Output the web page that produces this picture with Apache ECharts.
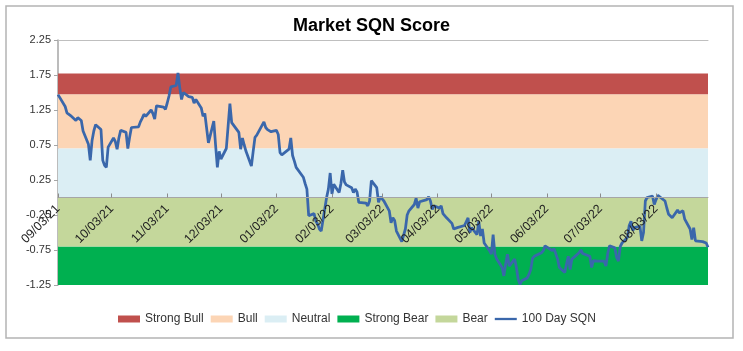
<!DOCTYPE html>
<html>
<head>
<meta charset="utf-8">
<script src="https://cdn.jsdelivr.net/npm/echarts@6/dist/echarts.min.js"></script>
<style>
  html, body { margin: 0; padding: 0; background: #fff; }
  #main { width: 743px; height: 351px; }
</style>
</head>
<body>
<div id="main"></div>
<script>
// bands (value ranges of the SQN regimes)
var bandNames = ['Strong Bull', 'Bull', 'Neutral', 'Strong Bear', 'Bear'];
var bandLow = [1.47, 0.7, 0, -1.25, -0.7];
var bandHigh = [1.77, 1.47, 0.7, -0.7, 0];
var bandColors = ['#C0504D', '#FCD5B5', '#DBEEF4', '#00B050', '#C4D79B'];

var yTicks = [-1.25, -0.75, -0.25, 0.25, 0.75, 1.25, 1.75, 2.25];
var xTicks = ['2021-09-03', '2021-10-03', '2021-11-03', '2021-12-03', '2022-01-03', '2022-02-03',
  '2022-03-03', '2022-04-03', '2022-05-03', '2022-06-03', '2022-07-03', '2022-08-03'];
var xMin = '2021-09-03';
var xMax = '2022-09-01';

var sqnDates = [
  '2021-09-03','2021-09-07','2021-09-08','2021-09-09','2021-09-10','2021-09-13','2021-09-14','2021-09-15','2021-09-16','2021-09-17','2021-09-20','2021-09-21','2021-09-22','2021-09-23','2021-09-24','2021-09-27','2021-09-28','2021-09-29','2021-09-30',
  '2021-10-01','2021-10-04','2021-10-05','2021-10-06','2021-10-07','2021-10-08','2021-10-11','2021-10-12','2021-10-13','2021-10-14','2021-10-15','2021-10-18','2021-10-19','2021-10-20','2021-10-21','2021-10-22','2021-10-25','2021-10-26','2021-10-27','2021-10-28','2021-10-29',
  '2021-11-01','2021-11-02','2021-11-03','2021-11-04','2021-11-05','2021-11-08','2021-11-09','2021-11-10','2021-11-11','2021-11-12','2021-11-15','2021-11-16','2021-11-17','2021-11-18','2021-11-19','2021-11-22','2021-11-23','2021-11-24','2021-11-26','2021-11-29','2021-11-30',
  '2021-12-01','2021-12-02','2021-12-03','2021-12-06','2021-12-07','2021-12-08','2021-12-09','2021-12-10','2021-12-13','2021-12-14','2021-12-15','2021-12-16','2021-12-17','2021-12-20','2021-12-21','2021-12-22','2021-12-23','2021-12-27','2021-12-28','2021-12-29','2021-12-30','2021-12-31',
  '2022-01-03','2022-01-04','2022-01-05','2022-01-06','2022-01-07','2022-01-10','2022-01-11','2022-01-12','2022-01-13','2022-01-14','2022-01-18','2022-01-19','2022-01-20','2022-01-21','2022-01-24','2022-01-25','2022-01-26','2022-01-27','2022-01-28','2022-01-31',
  '2022-02-01','2022-02-02','2022-02-03','2022-02-04','2022-02-07','2022-02-08','2022-02-09','2022-02-10','2022-02-11','2022-02-14','2022-02-15','2022-02-16','2022-02-17','2022-02-18','2022-02-22','2022-02-23','2022-02-24','2022-02-25','2022-02-28',
  '2022-03-01','2022-03-02','2022-03-03','2022-03-04','2022-03-07','2022-03-08','2022-03-09','2022-03-10','2022-03-11','2022-03-14','2022-03-15','2022-03-16','2022-03-17','2022-03-18','2022-03-21','2022-03-22','2022-03-23','2022-03-24','2022-03-25','2022-03-28','2022-03-29','2022-03-30','2022-03-31',
  '2022-04-01','2022-04-04','2022-04-05','2022-04-06','2022-04-07','2022-04-08','2022-04-11','2022-04-12','2022-04-13','2022-04-14','2022-04-18','2022-04-19','2022-04-20','2022-04-21','2022-04-22','2022-04-25','2022-04-26','2022-04-27','2022-04-28','2022-04-29',
  '2022-05-02','2022-05-03','2022-05-04','2022-05-05','2022-05-06','2022-05-09','2022-05-10','2022-05-11','2022-05-12','2022-05-13','2022-05-16','2022-05-17','2022-05-18','2022-05-19','2022-05-20','2022-05-23','2022-05-24','2022-05-25','2022-05-26','2022-05-27','2022-05-31',
  '2022-06-01','2022-06-02','2022-06-03','2022-06-06','2022-06-07','2022-06-08','2022-06-09','2022-06-10','2022-06-13','2022-06-14','2022-06-15','2022-06-16','2022-06-17','2022-06-21','2022-06-22','2022-06-23','2022-06-24','2022-06-27','2022-06-28','2022-06-29','2022-06-30',
  '2022-07-01','2022-07-05','2022-07-06','2022-07-07','2022-07-08','2022-07-11','2022-07-12','2022-07-13','2022-07-14','2022-07-15','2022-07-18','2022-07-19','2022-07-20','2022-07-21','2022-07-22','2022-07-25','2022-07-26','2022-07-27','2022-07-28','2022-07-29',
  '2022-08-01','2022-08-02','2022-08-03','2022-08-04','2022-08-05','2022-08-08','2022-08-09','2022-08-10','2022-08-11','2022-08-12','2022-08-15','2022-08-16','2022-08-17','2022-08-18','2022-08-19','2022-08-22','2022-08-23','2022-08-24','2022-08-25','2022-08-26','2022-08-29','2022-08-30','2022-08-31',
  '2022-09-01'
];
var sqnValues = [
  1.47, 1.30, 1.21, 1.19, 1.17, 1.10, 1.14, 1.12, 1.10, 0.95, 0.76, 0.53, 0.81, 0.95, 1.04, 0.97, 0.53, 0.46, 0.43,
  0.72, 0.85, 0.80, 0.69, 0.85, 0.96, 0.93, 0.70, 0.86, 1.00, 1.02, 1.01, 1.08, 1.13, 1.19, 1.16, 1.25, 1.20, 1.12, 1.31, 1.30,
  1.29, 1.26, 1.35, 1.45, 1.58, 1.60, 1.78, 1.57, 1.40, 1.50, 1.44, 1.44, 1.43, 1.35, 1.40, 1.28, 1.16, 1.20, 0.78, 1.09, 0.75,
  0.43, 0.66, 0.55, 0.70, 1.02, 1.34, 1.07, 1.05, 0.93, 0.69, 0.85, 0.75, 0.66, 0.45, 0.66, 0.86, 0.89, 1.08, 1.00, 0.97, 0.95, 0.94,
  0.96, 0.90, 0.64, 0.61, 0.60, 0.69, 0.85, 0.60, 0.52, 0.43, 0.29, 0.20, 0.12, -0.26, -0.23, -0.34, -0.38, -0.45, -0.48, 0.00,
  0.12, 0.35, 0.05, 0.19, 0.07, 0.20, 0.39, 0.22, 0.18, 0.14, 0.07, 0.12, 0.08, -0.07, -0.08, -0.12, -0.05, 0.24, 0.14,
  -0.07, 0.01, -0.02, -0.05, -0.19, -0.36, -0.29, -0.33, -0.48, -0.63, -0.62, -0.45, -0.25, -0.19, -0.10, -0.01, -0.15, -0.06, -0.04, -0.03, 0.01, -0.05, -0.17,
  -0.12, -0.15, -0.12, -0.23, -0.22, -0.29, -0.37, -0.45, -0.43, -0.43, -0.40, -0.38, -0.29, -0.50, -0.43, -0.53, -0.34, -0.55, -0.45, -0.65,
  -0.76, -0.81, -0.53, -0.81, -0.88, -1.00, -1.12, -0.95, -0.81, -0.98, -0.88, -1.00, -1.17, -1.24, -1.19, -1.15, -1.10, -1.03, -0.87, -0.84, -0.79,
  -0.76, -0.69, -0.71, -0.76, -0.73, -0.75, -0.88, -1.00, -1.07, -0.95, -0.84, -1.03, -0.88, -0.79, -0.75, -0.80, -0.78, -0.84, -1.00, -0.90, -0.88,
  -0.91, -0.91, -0.98, -0.80, -0.69, -0.72, -0.86, -0.91, -0.70, -0.65, -0.57, -0.40, -0.34, -0.47, -0.43, -0.41, -0.62, -0.50, -0.05, 0.00,
  0.02, -0.10, -0.03, 0.03, 0.04, -0.05, -0.15, -0.24, -0.22, -0.29, -0.18, -0.22, -0.20, -0.19, -0.31, -0.45, -0.60, -0.43, -0.62, -0.60, -0.63, -0.63, -0.65,
  -0.71
];

function toTime(s) {
  var p = s.split('-');
  return new Date(+p[0], +p[1] - 1, +p[2]).getTime();
}
function pad(n) { return (n < 10 ? '0' : '') + n; }
function fmtDate(v) {
  var d = new Date(v);
  return pad(d.getMonth() + 1) + '/' + pad(d.getDate()) + '/' + pad(d.getFullYear() % 100);
}

var font = 'Liberation Sans';
var lineColor = '#3A67AB';
var myChart = echarts.init(document.getElementById('main'));

var series = bandNames.map(function (name, i) {
  return {
    name: name,
    type: 'line',
    z: 1,
    data: [],
    symbol: 'none',
    color: bandColors[i],
    itemStyle: { color: bandColors[i] },
    markArea: {
      silent: true,
      itemStyle: { color: bandColors[i], opacity: 1 },
      data: [[{ yAxis: bandLow[i] }, { yAxis: bandHigh[i] }]]
    }
  };
});
series.push({
  name: '100 Day SQN',
  type: 'line',
  z: 3,
  symbol: 'none',
  color: lineColor,
  itemStyle: { color: lineColor },
  lineStyle: { color: lineColor, width: 2.75 },
  data: sqnDates.map(function (d, i) { return [toTime(d), sqnValues[i]]; })
});

var legendData = bandNames.map(function (n) { return { name: n, icon: 'rect' }; });
// thin bar icon for the line series
legendData.push({ name: '100 Day SQN', icon: 'path://M0,0L24,0L24,2.5L0,2.5Z' });

var xTickTimes = xTicks.map(toTime);

var option = {
  animation: false,
  title: {
    text: 'Market SQN Score',
    left: 'center',
    top: 12,
    textStyle: { fontFamily: font, fontSize: 18, fontWeight: 'bold', color: '#000' }
  },
  graphic: [{
    type: 'rect',
    shape: { x: 6, y: 6, width: 727, height: 332 },
    style: { fill: 'none', stroke: '#B4B4B4', lineWidth: 1.5 },
    silent: true
  }],
  legend: {
    data: legendData,
    left: 113,
    top: 308,
    itemWidth: 22,
    itemHeight: 7,
    itemGap: 7,
    symbolKeepAspect: true,
    textStyle: { fontFamily: font, fontSize: 12, color: '#333' }
  },
  grid: { left: 58, right: 35, top: 40, bottom: 66 },
  xAxis: [{
    type: 'value',
    min: toTime(xMin),
    max: toTime(xMax),
    z: 10,
    axisLine: { onZero: true, lineStyle: { color: '#A6A6A6', width: 1 } },
    axisTick: { show: true, inside: true, length: 4, lineStyle: { color: '#8C8C8C' },
      customValues: xTickTimes },
    axisLabel: {
      rotate: 45,
      margin: -78,
      fontFamily: font,
      fontSize: 12.5,
      color: '#222',
      hideOverlap: false,
      customValues: xTickTimes,
      formatter: fmtDate
    },
    splitLine: { show: false }
  }, {
    type: 'value',
    position: 'top',
    min: toTime(xMin),
    max: toTime(xMax),
    axisLine: { show: true, onZero: false, lineStyle: { color: '#BFBFBF', width: 1 } },
    axisTick: { show: false },
    axisLabel: { show: false },
    splitLine: { show: false }
  }],
  yAxis: {
    type: 'value',
    min: -1.25,
    max: 2.25,
    axisLine: { show: true, lineStyle: { color: '#A6A6A6', width: 1.5 } },
    axisTick: { show: true, length: 4, lineStyle: { color: '#A6A6A6' }, customValues: yTicks },
    axisLabel: {
      fontFamily: font,
      fontSize: 11,
      color: '#333',
      margin: 7,
      customValues: yTicks,
      formatter: function (v) { return v.toFixed(2); }
    },
    splitLine: { show: false }
  },
  series: series
};
myChart.setOption(option);
</script>
</body>
</html>
